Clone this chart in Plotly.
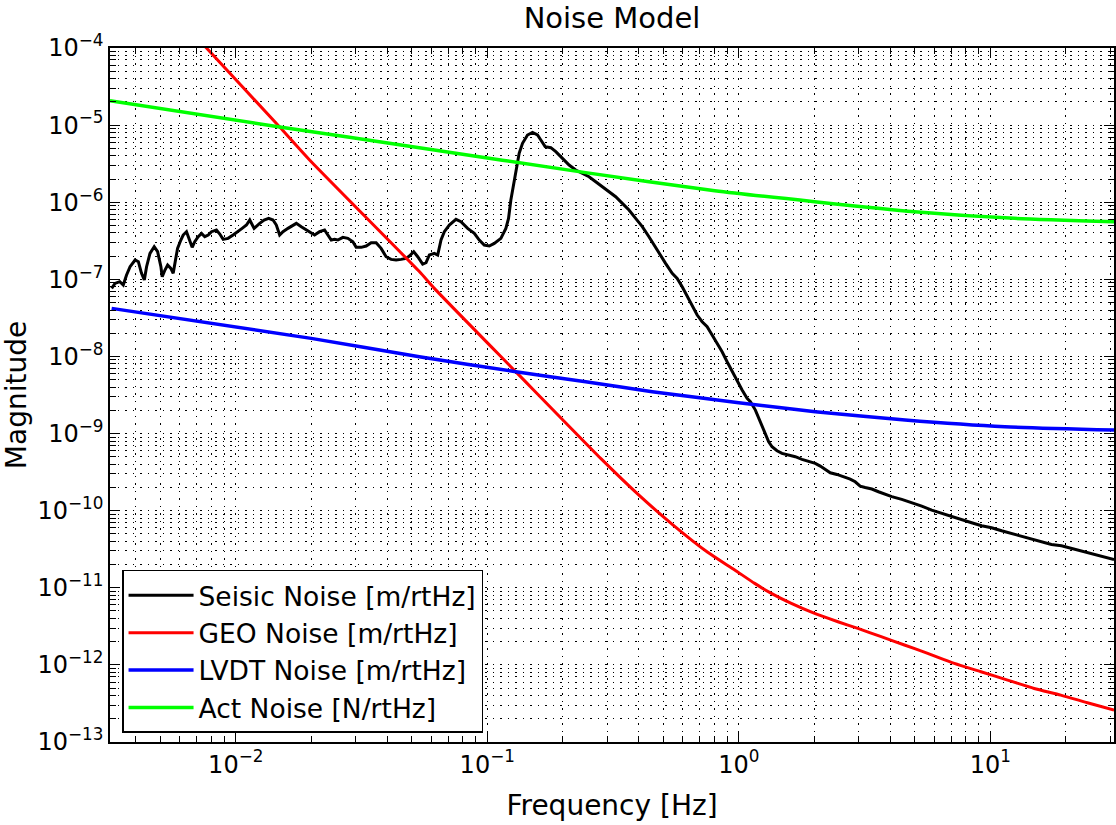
import plotly.graph_objects as go

# ---- Seismic noise spectrum [m/rtHz] ----
seis_f = [
    0.00321, 0.00331, 0.00346, 0.00357, 0.00368, 0.00380, 0.00398, 0.00410, 0.00422, 0.00433,
    0.00442, 0.00456, 0.00474, 0.00489, 0.00504, 0.00510, 0.00523, 0.00536, 0.00552, 0.00564,
    0.00576, 0.00587, 0.00605, 0.00618, 0.00637, 0.00657, 0.00671, 0.00687, 0.00709, 0.00731,
    0.00753, 0.00777, 0.00801, 0.00838, 0.00864, 0.00891, 0.00932, 0.00976, 0.01022, 0.01060,
    0.01103, 0.01137, 0.01183, 0.01208, 0.01245, 0.01296, 0.01352, 0.01407, 0.01450, 0.01495,
    0.01541, 0.01613, 0.01689, 0.01741, 0.01822, 0.01908, 0.01997, 0.02058, 0.02154, 0.02255,
    0.02324, 0.02397, 0.02471, 0.02547, 0.02667, 0.02791, 0.02922, 0.03012, 0.03153, 0.03300,
    0.03454, 0.03615, 0.03784, 0.03961, 0.04147, 0.04340, 0.04543, 0.04756, 0.04903, 0.05101,
    0.05291, 0.05538, 0.05710, 0.05886, 0.06160, 0.06353, 0.06549, 0.06751, 0.07066, 0.07510,
    0.07860, 0.08356, 0.08882, 0.09297, 0.09730, 0.10186, 0.10661, 0.11330, 0.11857, 0.12150,
    0.12413, 0.12796, 0.13070, 0.13393, 0.13809, 0.14454, 0.15128, 0.15841, 0.16331, 0.16991,
    0.17893, 0.18728, 0.19907, 0.21155, 0.22480, 0.23886, 0.25390, 0.26989, 0.28690, 0.30490,
    0.32407, 0.34443, 0.36603, 0.38905, 0.41344, 0.43944, 0.46000, 0.48159, 0.51168, 0.54375,
    0.56910, 0.59575, 0.62373, 0.65294, 0.68339, 0.71522, 0.74873, 0.78359, 0.82035, 0.85858,
    0.89889, 0.94105, 0.98492, 1.0311, 1.0792, 1.1125, 1.1645, 1.2004, 1.2375, 1.2759,
    1.3152, 1.3561, 1.4195, 1.4859, 1.5787, 1.6780, 1.7834, 1.8954, 2.0148, 2.1090,
    2.2076, 2.3110, 2.4556, 2.6102, 2.7742, 2.9040, 3.0395, 3.1814, 3.3813, 3.5939,
    3.8194, 4.0598, 4.4475, 4.8731, 5.3395, 5.8508, 6.4110, 7.0246, 7.6942, 8.4316,
    9.2397, 10.123, 11.092, 12.153, 13.314, 14.588, 15.983, 17.512, 19.190, 21.024,
    23.035, 25.243, 27.664, 31.06,
]
seis_v = [
    7.63e-8, 8.86e-8, 9.32e-8, 8.43e-8, 1.137e-7, 1.458e-7, 1.780e-7, 1.693e-7, 1.195e-7, 9.79e-8,
    1.458e-7, 2.172e-7, 2.650e-7, 2.283e-7, 1.458e-7, 1.082e-7, 1.320e-7, 1.532e-7, 1.387e-7, 1.195e-7,
    1.780e-7, 2.521e-7, 3.233e-7, 3.754e-7, 4.147e-7, 3.233e-7, 2.598e-7, 3.077e-7, 3.571e-7, 3.946e-7,
    3.571e-7, 3.754e-7, 4.147e-7, 4.358e-7, 3.868e-7, 3.298e-7, 3.398e-7, 3.754e-7, 4.147e-7, 4.581e-7,
    5.060e-7, 5.876e-7, 4.581e-7, 4.814e-7, 5.319e-7, 5.876e-7, 6.176e-7, 5.876e-7, 5.060e-7, 3.754e-7,
    4.147e-7, 4.581e-7, 5.060e-7, 5.319e-7, 4.814e-7, 4.358e-7, 3.946e-7, 3.754e-7, 4.147e-7, 4.358e-7,
    3.754e-7, 3.233e-7, 3.298e-7, 3.233e-7, 3.501e-7, 3.398e-7, 3.077e-7, 2.598e-7, 2.598e-7, 2.704e-7,
    2.987e-7, 2.987e-7, 2.521e-7, 1.965e-7, 1.815e-7, 1.780e-7, 1.815e-7, 1.870e-7, 2.005e-7, 2.283e-7,
    1.965e-7, 1.579e-7, 1.643e-7, 2.066e-7, 2.172e-7, 2.066e-7, 3.234e-7, 4.148e-7, 5.061e-7, 5.995e-7,
    5.593e-7, 4.582e-7, 3.947e-7, 3.234e-7, 2.786e-7, 2.704e-7, 2.928e-7, 3.399e-7, 4.582e-7, 6.177e-7,
    1.068e-6, 1.941e-6, 3.038e-6, 4.304e-6, 5.801e-6, 7.441e-6, 8.056e-6, 7.441e-6, 6.409e-6, 5.254e-6,
    5.099e-6, 4.523e-6, 3.707e-6, 3.038e-6, 2.617e-6, 2.369e-6, 2.144e-6, 1.846e-6, 1.590e-6, 1.370e-6,
    1.180e-6, 9.67e-7, 7.92e-7, 6.177e-7, 4.816e-7, 3.572e-7, 2.786e-7, 2.173e-7, 1.611e-7, 1.195e-7,
    1.029e-7, 8.025e-8, 5.953e-8, 4.417e-8, 3.443e-8, 2.821e-8, 2.430e-8, 1.895e-8, 1.477e-8, 1.151e-8,
    8.54e-9, 6.34e-9, 4.70e-9, 3.665e-9, 2.858e-9, 2.588e-9, 2.017e-9, 1.573e-9, 1.226e-9, 9.56e-10,
    7.83e-10, 6.75e-10, 5.99e-10, 5.53e-10, 5.26e-10, 5.01e-10, 4.62e-10, 4.31e-10, 4.10e-10, 3.79e-10,
    3.43e-10, 3.10e-10, 2.95e-10, 2.75e-10, 2.57e-10, 2.37e-10, 2.08e-10, 2.00e-10, 1.91e-10, 1.76e-10,
    1.63e-10, 1.52e-10, 1.40e-10, 1.27e-10, 1.147e-10, 1.018e-10, 9.22e-11, 8.34e-11, 7.70e-11, 6.97e-11,
    6.38e-11, 6.01e-11, 5.49e-11, 5.07e-11, 4.68e-11, 4.24e-11, 3.95e-11, 3.65e-11, 3.51e-11, 3.24e-11,
    2.99e-11, 2.74e-11, 2.53e-11, 2.33e-11,
]

# ---- Geophone noise [m/rtHz] ----
geo_f = [0.0063, 0.00765, 0.01495, 0.01966, 0.0537, 0.0616, 0.130, 0.2825, 0.40, 0.55,
         0.75, 0.964, 1.157, 1.348, 1.618, 2.003, 2.479, 2.976, 3.684, 4.557,
         5.640, 7.196, 9.184, 11.72, 14.95, 19.07, 24.34, 31.06]
geo_v = [2.0e-4, 1.0e-4, 9.45e-6, 3.53e-6, 1.26e-7, 7.63e-8, 6.3e-9, 4.76e-10, 1.60e-10, 6.46e-11,
         2.91e-11, 1.70e-11, 1.14e-11, 8.45e-12, 6.27e-12, 4.65e-12, 3.63e-12, 2.97e-12, 2.32e-12, 1.81e-12,
         1.41e-12, 1.045e-12, 8.15e-13, 6.35e-13, 4.95e-13, 4.06e-13, 3.23e-13, 2.59e-13]

# ---- LVDT noise [m/rtHz] ----
lvdt_f = [0.00321, 0.01995, 0.0537, 0.130, 0.2463, 0.453, 1.0, 2.015, 4.585, 11.43, 31.06]
lvdt_v = [4.20e-8, 1.715e-8, 9.92e-9, 6.34e-9, 4.70e-9, 3.49e-9, 2.51e-9, 1.92e-9, 1.50e-9, 1.226e-9, 1.11e-9]

# ---- Actuator noise [N/rtHz] ----
act_f = [0.00316, 0.01495, 0.0537, 0.2463, 0.803, 2.003, 4.994, 12.45, 31.06]
act_v = [2.07e-5, 9.45e-6, 5.10e-6, 2.42e-6, 1.41e-6, 1.015e-6, 7.53e-7, 6.18e-7, 5.59e-7]

# ---- Axis ticks ----
x_tickvals = [1e-2, 1e-1, 1e0, 1e1]
x_ticktext = ["10<sup>\u22122</sup>", "10<sup>\u22121</sup>", "10<sup>0</sup>", "10<sup>1</sup>"]
y_exponents = list(range(-13, -3))
y_tickvals = [10.0 ** e for e in y_exponents]
y_ticktext = ["10<sup>\u2212%d</sup>" % (-e) for e in y_exponents]

FONT = "DejaVu Sans"

fig = go.Figure()
# (name, x, y, colour, width, line shape): the measured spectrum keeps its raw
# jagged look, the model curves are drawn smooth.
series = [
    ("Seisic Noise [m/rtHz]", seis_f, seis_v, "#000000", 3, "linear"),
    ("GEO Noise [m/rtHz]", geo_f, geo_v, "#ff0000", 3, "spline"),
    ("LVDT Noise [m/rtHz]", lvdt_f, lvdt_v, "#0000ff", 3.5, "spline"),
    ("Act Noise [N/rtHz]", act_f, act_v, "#00ff00", 3.5, "spline"),
]
for name, fx, fy, color, width, shape in series:
    line = dict(color=color, width=width, shape=shape)
    if shape == "spline":
        line["smoothing"] = 0.6
    fig.add_trace(go.Scatter(x=fx, y=fy, mode="lines", name=name, line=line))

grid_dash = "1.5px,6px"
axis_common = dict(
    type="log",
    showline=True, linecolor="black", linewidth=1.5, mirror="allticks",
    ticks="inside", ticklen=10, tickwidth=1, tickcolor="black",
    showgrid=True, gridcolor="black", gridwidth=1, griddash=grid_dash,
    zeroline=False,
    tickfont=dict(family=FONT, size=24, color="black"),
    tickmode="array",
    minor=dict(ticks="inside", ticklen=6, tickwidth=1, tickcolor="black",
               showgrid=True, gridcolor="black", gridwidth=1, griddash=grid_dash,
               dtick="D1"),
)

fig.update_xaxes(**axis_common, range=[-2.5, 1.492],
                 tickvals=x_tickvals, ticktext=x_ticktext,
                 title=dict(text="Frequency [Hz]", font=dict(family=FONT, size=28, color="black"),
                            standoff=18))
fig.update_yaxes(**axis_common, range=[-13, -4],
                 tickvals=y_tickvals, ticktext=y_ticktext,
                 title=dict(text="Magnitude", font=dict(family=FONT, size=28, color="black"),
                            standoff=12))

fig.update_layout(
    width=1116, height=825,
    margin=dict(l=110, r=0, t=48, b=83),
    paper_bgcolor="white", plot_bgcolor="white",
    font=dict(family=FONT, color="black"),
    title=dict(text="Noise Model", x=0.5, xref="paper", xanchor="center",
               y=1 - 18 / 825, yref="container", yanchor="middle",
               font=dict(family=FONT, size=29, color="black")),
    showlegend=True,
    legend=dict(x=0.012, y=0.013, xanchor="left", yanchor="bottom",
                bgcolor="white", bordercolor="black", borderwidth=1.5,
                font=dict(family=FONT, size=26.5, color="black"),
                itemwidth=65, tracegroupgap=0),
)

fig.write_html("out.html")
